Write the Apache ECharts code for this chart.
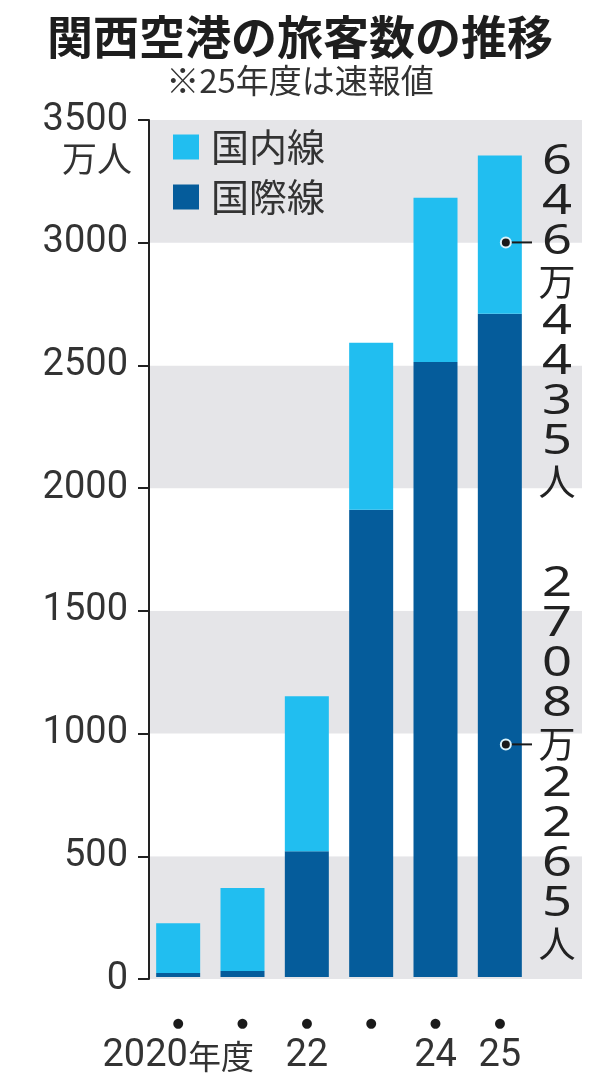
<!DOCTYPE html>
<html>
<head>
<meta charset="utf-8">
<script src="https://cdn.jsdelivr.net/npm/echarts@6/dist/echarts.min.js"></script>
<style>
    html, body { margin: 0; padding: 0; background: #fff; }
    #chart { width: 600px; height: 1075px; }
</style>
</head>
<body>
<div id="chart"></div>
<script>
// 年度（カテゴリ）と目盛りラベル
const years = ['2020', '2021', '2022', '2023', '2024', '2025'];
const yearLabels = ['2020年度', '', '22', '', '24', '25'];
// 万人
const international = [16, 24, 514, 1908, 2512, 2708.2265];
const domestic = [204, 339, 633, 682, 670, 646.4435];
const yTicks = [0, 500, 1000, 1500, 2000, 2500, 3000, 3500];
// 注記の引き出し線が指す値
const pointerDomestic = 3000;
const pointerInternational = 950;

const CJK = '"Noto Sans CJK JP", "Noto Sans", sans-serif';
const NUM = 'Roboto, "Noto Sans", sans-serif';
const DARK = '#055c9b';
const LIGHT = '#21bef0';

/**
 * 646.4435 -> 646万4435人
 */
function toJpCount(v) {
    const n = Math.round(v * 10000);
    const man = Math.floor(n / 10000);
    const rest = n % 10000;
    return man + '万' + rest + '人';
}

const chart = echarts.init(document.getElementById('chart'));

const option = {
    animation: false,
    backgroundColor: '#fff',
    title: {
        text: '関西空港の旅客数の推移',
        subtext: '※25年度は速報値',
        left: 'center',
        top: 9,
        itemGap: 4,
        textStyle: {
            fontFamily: CJK,
            fontSize: 46,
            fontWeight: 'bold',
            color: '#1e1e1e'
        },
        subtextStyle: {
            fontFamily: CJK,
            fontSize: 33,
            color: '#333'
        }
    },
    legend: {
        data: ['国内線', '国際線'],
        orient: 'vertical',
        left: 173,
        top: 128,
        padding: 0,
        icon: 'rect',
        itemWidth: 26,
        itemHeight: 25,
        itemGap: 12,
        textStyle: {
            fontFamily: CJK,
            fontSize: 38,
            color: '#333',
            padding: [0, 0, 0, 7]
        }
    },
    grid: [
        // 背景の帯とy軸
        {left: 149, right: 18, top: 120, bottom: 96},
        // 棒
        {left: 146, width: 386, top: 120, bottom: 96}
    ],
    xAxis: [{
        gridIndex: 0,
        type: 'value',
        min: 0,
        max: 1,
        show: false
    }, {
        gridIndex: 1,
        type: 'category',
        data: years,
        axisLine: {show: false},
        axisTick: {show: false},
        axisLabel: {
            interval: 0,
            margin: 36,
            formatter: function (value, index) {
                const s = yearLabels[index];
                const num = s.replace(/[^0-9]/g, '');
                const rest = s.replace(/[0-9]/g, '');
                return '{d|●}\n{t|' + num + '}' + (rest ? '{k|' + rest + '}' : '');
            },
            rich: {
                d: {
                    fontFamily: 'DejaVu Sans',
                    fontSize: 13,
                    lineHeight: 22,
                    color: '#1a1a1a'
                },
                t: {
                    fontFamily: NUM,
                    fontSize: 38,
                    lineHeight: 42,
                    color: '#333'
                },
                k: {
                    fontFamily: CJK,
                    fontSize: 33,
                    lineHeight: 42,
                    color: '#333'
                }
            }
        }
    }],
    yAxis: [{
        gridIndex: 0,
        type: 'value',
        min: 0,
        max: 3500,
        interval: 500,
        axisLine: {
            show: true,
            lineStyle: {color: '#222', width: 2}
        },
        axisTick: {
            show: true,
            length: 11,
            lineStyle: {color: '#222', width: 2}
        },
        axisLabel: {
            margin: 21,
            fontFamily: NUM,
            fontSize: 38,
            color: '#333',
            customValues: yTicks,
            formatter: function (v) {
                return String(v);
            }
        },
        splitLine: {show: false},
        splitArea: {
            show: true,
            areaStyle: {
                color: ['#e5e5e8', '#ffffff']
            }
        }
    }, {
        gridIndex: 1,
        type: 'value',
        min: 0,
        max: 3500,
        interval: 500,
        show: false
    }],
    series: [{
        name: '国際線',
        type: 'bar',
        stack: 'total',
        xAxisIndex: 1,
        yAxisIndex: 1,
        barWidth: 44,
        itemStyle: {color: DARK},
        data: international
    }, {
        name: '国内線',
        type: 'bar',
        stack: 'total',
        xAxisIndex: 1,
        yAxisIndex: 1,
        barWidth: 44,
        itemStyle: {color: LIGHT},
        data: domestic
    }]
};

chart.setOption(option);

// 25年度の注記（引き出し線と縦書きの数値）
const last = years.length - 1;
const textX = 557;
const lineH = 40;

function callout(value, text, charIndex) {
    const p = chart.convertToPixel({gridIndex: 1}, [years[last], value]);
    const dotX = p[0] + 6;
    const dotY = p[1];
    const top = dotY - (charIndex + 0.5) * lineH;
    const els = [{
        type: 'line',
        shape: {x1: dotX, y1: dotY, x2: textX - 25, y2: dotY},
        style: {stroke: '#1a1a1a', lineWidth: 2},
        z: 100
    }, {
        type: 'circle',
        shape: {cx: dotX, cy: dotY, r: 5},
        style: {fill: '#1a1a1a', stroke: '#d9f3fc', lineWidth: 2},
        z: 101
    }];
    // 1文字ずつ縦に並べる（数字は少し横に広げる）
    text.split('').forEach(function (ch, i) {
        const isDigit = /[0-9]/.test(ch);
        els.push({
            type: 'text',
            x: textX,
            y: top + (i + 0.5) * lineH,
            scaleX: isDigit ? 1.25 : 1,
            style: {
                text: ch,
                font: isDigit ? '42px "Noto Sans", sans-serif' : '37px ' + CJK,
                fill: '#222',
                align: 'center',
                verticalAlign: 'middle'
            },
            z: 100
        });
    });
    return els;
}

const graphics = [{
    type: 'text',
    x: 132,
    y: 141,
    style: {
        text: '万人',
        font: '35px ' + CJK,
        fill: '#333',
        align: 'right',
        verticalAlign: 'top'
    }
}].concat(
    callout(pointerDomestic, toJpCount(domestic[last]), 2),
    callout(pointerInternational, toJpCount(international[last]), 4)
);

chart.setOption({graphic: graphics});

window.onresize = function () {
    chart.resize();
};
</script>
</body>
</html>
